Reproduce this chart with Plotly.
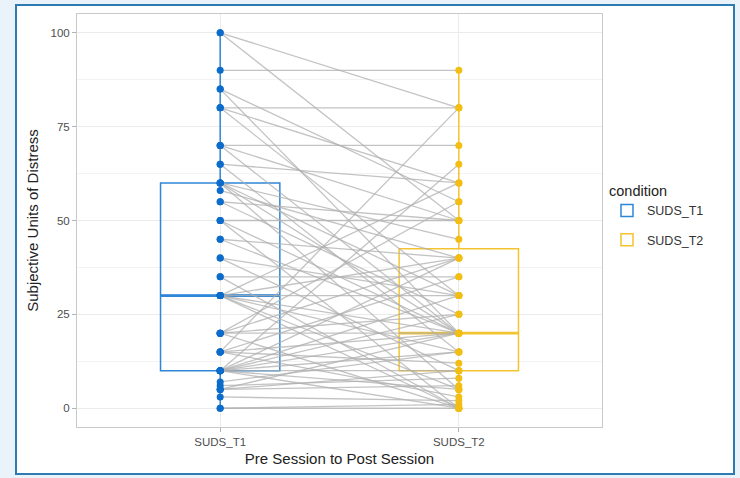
import numpy as np
import plotly.graph_objects as go

# ---- data ----
conditions = ["SUDS_T1", "SUDS_T2"]
suds_t1 = [100, 100, 90, 85, 85, 80, 80, 80, 70, 70, 70, 65, 65,
           60, 60, 60, 60, 58, 55, 55, 50, 50, 50, 45, 45, 40, 40, 35, 35,
           30, 30, 30, 30, 30, 30, 30, 20, 20, 20, 20, 20,
           15, 15, 15, 15, 15, 10, 10, 10, 10, 10, 10, 10, 10, 10,
           7, 6, 5, 5, 5, 3, 0, 0]
suds_t2 = [80, 50, 90, 55, 20, 80, 60, 30, 70, 50, 20, 60, 15,
           45, 30, 20, 5, 40, 50, 25, 50, 20, 0, 40, 20, 30, 10, 35, 0,
           60, 40, 30, 20, 15, 5, 0, 55, 40, 25, 20, 0,
           80, 35, 20, 12, 3, 65, 40, 30, 25, 20, 15, 10, 5, 0,
           15, 8, 20, 10, 6, 2, 0, 1]
y_ticks = [0, 25, 50, 75, 100]

blue_pt = "#0B6CCB"
blue_ln = "#2E86D6"
gold_pt = "#F2BE14"
gold_ln = "#F4C430"
font = "Liberation Sans, Arial, sans-serif"

fig = go.Figure()
values = [suds_t1, suds_t2]
line_cols = [blue_ln, gold_ln]
pt_cols = [blue_pt, gold_pt]

# boxes
for i, (name, vals) in enumerate(zip(conditions, values)):
    fig.add_trace(go.Box(
        x=[i + 1] * len(vals), y=vals, name=name, width=0.5,
        boxpoints=False, quartilemethod="inclusive", whiskerwidth=0,
        line=dict(color=line_cols[i], width=1.5),
        fillcolor="rgba(0,0,0,0)", legendgroup=name, showlegend=True,
    ))

# median lines (thicker, as in ggplot)
for i, vals in enumerate(values):
    med = float(np.median(vals))
    fig.add_trace(go.Scatter(
        x=[i + 1 - 0.25, i + 1 + 0.25], y=[med, med], mode="lines",
        line=dict(color=line_cols[i], width=2.6), showlegend=False,
        hoverinfo="skip",
    ))

# paired lines
lx, ly = [], []
for a, b in zip(suds_t1, suds_t2):
    lx += [1, 2, None]
    ly += [a, b, None]
fig.add_trace(go.Scatter(
    x=lx, y=ly, mode="lines",
    line=dict(color="rgba(175,175,175,0.75)", width=1.3),
    showlegend=False, hoverinfo="skip",
))

# points
for i, (name, vals) in enumerate(zip(conditions, values)):
    fig.add_trace(go.Scatter(
        x=[i + 1] * len(vals), y=vals, mode="markers",
        marker=dict(color=pt_cols[i], size=7),
        showlegend=False, legendgroup=name,
    ))

L, R, T, B = 77, 138, 14, 51
W, H = 740, 478
pw, ph = W - L - R, H - T - B

def px_x(p):
    return (p - L) / pw

def px_y(p):
    return (H - B - p) / ph

fig.update_layout(
    width=W, height=H,
    margin=dict(l=L, r=R, t=T, b=B, autoexpand=False),
    paper_bgcolor="#E9F3F9",
    plot_bgcolor="white",
    font=dict(family=font, color="#222222"),
    shapes=[dict(type="rect", xref="paper", yref="paper",
                 x0=px_x(16), x1=px_x(734), y0=px_y(474), y1=px_y(5),
                 fillcolor="white", line=dict(color="#2C7BB3", width=2),
                 layer="below")],
    xaxis=dict(
        range=[0.4, 2.6], tickvals=[1, 2], ticktext=conditions,
        automargin=False,
        showgrid=True, gridcolor="#EBEBEB", gridwidth=1,
        zeroline=False, showline=True, mirror=True,
        linecolor="#C9C9C9", linewidth=1,
        ticks="outside", ticklen=4, tickcolor="#B3B3B3",
        tickfont=dict(size=11.5, color="#4D4D4D"),
        title=dict(text="Pre Session to Post Session",
                   font=dict(size=15, color="#222222"), standoff=6),
    ),
    yaxis=dict(
        range=[-5, 105], tickvals=y_ticks,
        automargin=False,
        showgrid=True, gridcolor="#EBEBEB", gridwidth=1,
        minor=dict(dtick=12.5, tick0=0, showgrid=True,
                   gridcolor="#F3F3F3", gridwidth=0.8),
        zeroline=False, showline=True, mirror=True,
        linecolor="#C9C9C9", linewidth=1,
        ticks="outside", ticklen=4, tickcolor="#B3B3B3",
        tickfont=dict(size=11.5, color="#4D4D4D"),
        title=dict(text="Subjective Units of Distress",
                   font=dict(size=15, color="#222222"), standoff=8),
    ),
    legend=dict(
        x=px_x(607), y=px_y(177), xanchor="left", yanchor="top",
        title=dict(text="condition", font=dict(size=14.5, color="#222222")),
        font=dict(size=12.5, color="#333333"),
        bgcolor="rgba(0,0,0,0)", tracegroupgap=10,
    ),
)

fig.write_html("out.html", config={"displayModeBar": False},
               post_script="document.body.style.margin='0';document.body.style.overflow='hidden';")
